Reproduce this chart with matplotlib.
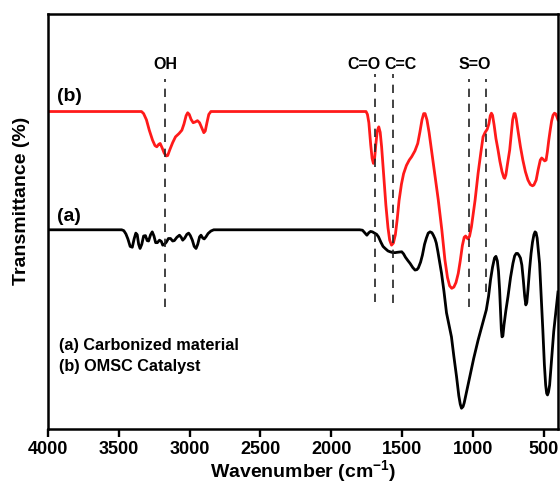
import numpy as np
import matplotlib.pyplot as plt

plt.rcParams['font.family'] = ['Liberation Sans', 'DejaVu Sans']
plt.rcParams['font.weight'] = 'bold'
plt.rcParams['axes.labelweight'] = 'bold'
plt.rcParams['mathtext.fontset'] = 'custom'
plt.rcParams['mathtext.bf'] = 'Liberation Sans:bold'
plt.rcParams['mathtext.rm'] = 'Liberation Sans:bold'
plt.rcParams['mathtext.default'] = 'bf'

# (a) carbonized material, offset transmittance (a.u.)
wn_a = [4000, 3480, 3465, 3450, 3436, 3420, 3405, 3392, 3380, 3370, 3360, 3350,
        3338, 3325, 3312, 3300, 3290, 3276, 3264, 3252, 3240, 3228, 3213, 3200,
        3190, 3178, 3165, 3150, 3135, 3120, 3108, 3090, 3072, 3060, 3049, 3035,
        3020, 3007, 2995, 2981, 2968, 2955, 2943, 2930, 2920, 2907, 2897, 2885,
        2870, 2850, 2830,
        1800, 1780, 1765, 1749, 1735, 1723, 1710, 1695, 1680, 1667, 1650, 1635,
        1620, 1600, 1585, 1565, 1549, 1530, 1503, 1490, 1477, 1460, 1444, 1425,
        1409, 1396, 1386, 1370, 1357, 1342, 1329, 1316, 1303, 1290, 1280, 1268,
        1259, 1248, 1238, 1222, 1205, 1187, 1170, 1152, 1135, 1116, 1100, 1090,
        1081, 1070, 1062, 1045, 1022, 995, 964, 935, 906, 890, 876, 862, 848,
        838, 828, 820, 812, 806, 800, 795, 789, 781, 768, 753, 735, 718, 706,
        695, 685, 676, 665, 655, 645, 635, 627, 620, 612, 601, 590, 580, 570,
        562, 555, 547, 540, 530, 520, 507, 496, 487, 480, 474, 467, 459, 450,
        444, 430, 414, 400]
t_a = [48.0, 48.0, 47.8, 47.0, 45.8, 44.0, 43.8, 45.8, 47.2, 46.8, 44.5, 43.5,
       44.5, 46.5, 46.6, 45.4, 45.3, 46.8, 47.5, 46.5, 44.9, 44.9, 45.5, 45.2,
       44.3, 44.5, 45.0, 45.9, 45.9, 45.3, 45.4, 46.2, 46.7, 46.2, 45.5, 46.0,
       46.9, 47.2, 46.6, 45.5, 44.0, 43.5, 44.5, 46.3, 46.7, 46.0, 45.8, 46.3,
       47.1, 47.7, 48.0,
       48.0, 47.9, 47.3, 46.7, 47.3, 47.6, 47.5, 47.2, 46.9, 46.3, 45.0, 44.0,
       43.5, 42.9, 42.7, 42.5, 42.5, 42.6, 42.7, 42.2, 41.4, 40.6, 39.9, 38.9,
       38.3, 38.4, 38.8, 40.2, 41.9, 44.5, 46.0, 47.2, 47.5, 47.3, 46.7, 45.8,
       44.8, 42.8, 40.7, 37.5, 33.2, 28.0, 25.2, 22.2, 17.5, 12.6, 8.0, 6.0,
       5.0, 5.4, 6.3, 9.0, 12.6, 17.0, 21.4, 25.0, 28.7, 32.0, 36.0, 39.0, 41.2,
       41.6, 40.5, 38.0, 33.5, 28.5, 24.0, 22.2, 22.4, 25.1, 28.5, 31.9, 36.5,
       39.9, 41.7, 42.3, 42.3, 41.9, 41.2, 39.5, 36.0, 32.0, 29.9, 30.5, 33.5,
       38.3, 42.3, 45.0, 46.8, 47.5, 47.3, 46.0, 43.5, 39.9, 33.0, 23.9, 15.5,
       10.6, 8.6, 8.2, 8.9, 10.6, 14.5, 17.4, 23.5, 28.5, 33.0]

# (b) OMSC catalyst, offset transmittance (a.u.)
wn_b = [4000, 3340, 3325, 3305, 3285, 3262, 3245, 3232, 3218, 3208, 3195, 3180,
        3165, 3155, 3140, 3120, 3100, 3075, 3055, 3040, 3025, 3014, 3003, 2990,
        2975, 2960, 2945, 2930, 2915, 2900, 2890, 2878, 2865, 2850,
        1755, 1745, 1735, 1722, 1712, 1703, 1695, 1686, 1676, 1665, 1655, 1645,
        1630, 1615, 1600, 1588, 1575, 1562, 1548, 1535, 1522, 1505, 1490, 1470,
        1450, 1433, 1410, 1390, 1375, 1360, 1348, 1338, 1325, 1310, 1290, 1270,
        1245, 1220, 1198, 1180, 1165, 1150, 1135, 1120, 1104, 1090, 1075, 1062,
        1052, 1042, 1034, 1024, 1011, 1000, 985, 964, 945, 929, 914, 900, 888,
        878, 870, 862, 851, 838, 823, 810, 795, 782, 776, 768, 758, 741, 730,
        720, 710, 703, 695, 683, 665, 648, 630, 612, 595, 580, 570, 554, 540,
        525, 515, 505, 494, 484, 475, 465, 455, 445, 435, 425, 415, 405, 400]
t_b = [76.5, 76.5, 76.0, 74.5, 72.0, 69.6, 68.3, 68.0, 68.6, 68.8, 67.8, 66.5,
       65.8, 65.9, 67.3, 69.0, 70.4, 71.2, 72.0, 73.5, 75.5, 76.2, 75.8, 74.6,
       73.8, 74.0, 74.3, 73.8, 72.6, 71.4, 71.8, 73.8, 75.8, 76.5,
       76.5, 75.8, 73.8, 68.5, 65.2, 64.0, 65.0, 68.5, 71.8, 72.8, 71.5, 68.0,
       61.0, 54.0, 48.5, 45.5, 44.3, 44.8, 46.8, 50.5, 55.0, 59.0, 61.5, 63.5,
       64.8, 65.6, 67.0, 68.8, 71.5, 74.5, 76.0, 76.0, 74.5, 71.5, 66.5, 61.5,
       55.2, 48.0, 40.7, 36.5, 34.5, 33.9, 34.2, 35.3, 37.5, 40.5, 44.2, 46.2,
       46.5, 46.0, 45.8, 46.5, 48.7, 51.5, 55.2, 61.6, 66.5, 70.4, 71.5, 72.2,
       73.5, 75.5, 76.1, 75.6, 73.3, 70.0, 67.2, 64.5, 62.0, 60.6, 60.4, 61.2,
       63.5, 67.2, 71.0, 74.5, 76.0, 76.0, 74.8, 72.0, 68.0, 64.8, 62.0, 60.0,
       58.9, 58.6, 58.8, 60.0, 62.5, 64.8, 65.3, 65.0, 64.6, 64.8, 66.8, 69.6,
       72.0, 74.2, 75.6, 76.1, 75.9, 75.0, 74.5]

# band assignments: label, line position, label x, line top, line bottom
bands = [('OH', 3173, 3173, 84.3, 29.5),
         ('C=O', 1690, 1772, 85.5, 30.7),
         ('C=C', 1568, 1514, 85.5, 30.4),
         ('S=O', 1029, 987, 84.3, 29.5),
         (None, 910, None, 84.3, 33.0)]

fig = plt.figure(figsize=(5.6, 4.86), dpi=100)
ax = fig.add_axes([0.0857, 0.1173, 0.9107, 0.8539])

ax.plot(wn_a, t_a, color='black', lw=2.0, solid_joinstyle='round')
ax.plot(wn_b, t_b, color='#ff1a1a', lw=2.0, solid_joinstyle='round')

for name, pos, xl, top, bot in bands:
    ax.plot([pos, pos], [bot, top], color='#222222', lw=1.2,
            ls=(0, (5, 4)))
    if name:
        ax.text(xl, 87.9, name, ha='center', va='center', fontsize=11.5)

ax.text(3937, 80.1, '(b)', ha='left', va='center', fontsize=14)
ax.text(3937, 51.2, '(a)', ha='left', va='center', fontsize=14)
ax.text(3923, 20.0, '(a) Carbonized material', ha='left', va='center',
        fontsize=11.7)
ax.text(3923, 15.0, '(b) OMSC Catalyst', ha='left', va='center',
        fontsize=11.7)

ax.set_xlim(4000, 400)
ax.set_ylim(0, 100)
ax.set_xticks([4000, 3500, 3000, 2500, 2000, 1500, 1000, 500])
ax.set_yticks([])
ax.tick_params(axis='x', direction='out', length=6, width=1.7,
               labelsize=13, pad=3)
for s in ax.spines.values():
    s.set_linewidth(1.8)

ax.set_xlabel(r'Wavenumber (cm$^{-1}$)', fontsize=14, labelpad=0)
fig.text(21.7 / 560, 1 - 201 / 486, 'Transmittance (%)', rotation=90,
         ha='center', va='center', fontsize=14)

fig.savefig('out.png', dpi=100)
